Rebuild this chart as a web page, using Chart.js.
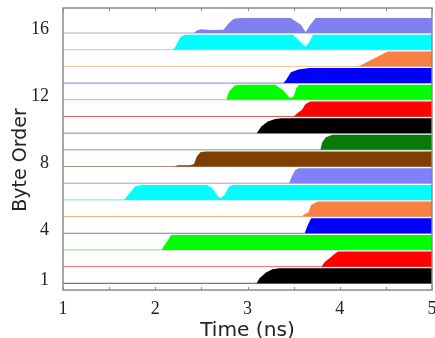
<!DOCTYPE html>
<html>
<head>
<meta charset="utf-8">
<script src="https://cdn.jsdelivr.net/npm/chart.js@4"></script>
<style>
  html, body { margin: 0; padding: 0; background: #fff; }
  #wrap { width: 435px; height: 338px; }
</style>
</head>
<body>
<div id="wrap"><canvas id="chart" width="435" height="338"></canvas></div>
<script>
// time axis ticks (ns) and byte-order tick labels
const xTicks = [1, 1.5, 2, 2.5, 3, 3.5, 4, 4.5, 5];
const yTicks = [1, 4, 8, 12, 16];
const xTitle = 'Time (ns)';
const yTitle = 'Byte Order';

// each row: [time ns, signal height (0..0.9)] breakpoints
const row1 = [[1,0],[3.1,0],[3.13,0.3],[3.2,0.65],[3.27,0.85],[3.35,0.9],[5,0.9]];
const row2 = [[1,0],[3.8,0],[3.84,0.3],[3.9,0.55],[3.93,0.7],[3.98,0.9],[5,0.9]];
const row3 = [[1,0],[2.07,0],[2.1,0.3],[2.13,0.5],[2.17,0.9],[5,0.9]];
const row4 = [[1,0],[3.62,0],[3.65,0.45],[3.69,0.9],[5,0.9]];
const row5 = [[1,0],[3.59,0],[3.62,0.15],[3.66,0.25],[3.69,0.7],[3.76,0.9],[5,0.9]];
const row6 = [[1,0],[1.66,0],[1.72,0.4],[1.78,0.8],[1.85,0.9],[2.56,0.9],[2.62,0.7],[2.68,0.2],[2.71,0.1],[2.75,0.3],[2.8,0.8],[2.84,0.9],[5,0.9]];
const row7 = [[1,0],[3.45,0],[3.48,0.4],[3.52,0.8],[3.56,0.9],[5,0.9]];
const row8 = [[1,0],[2.2,0],[2.25,0.08],[2.38,0.08],[2.42,0.15],[2.45,0.6],[2.49,0.85],[2.54,0.9],[5,0.9]];
const row9 = [[1,0],[3.79,0],[3.81,0.45],[3.85,0.75],[3.92,0.9],[5,0.9]];
const row10 = [[1,0],[3.1,0],[3.15,0.4],[3.22,0.7],[3.3,0.85],[3.37,0.9],[5,0.9]];
const row11 = [[1,0],[3.5,0],[3.53,0.15],[3.59,0.4],[3.63,0.75],[3.68,0.9],[5,0.9]];
const row12 = [[1,0],[2.77,0],[2.8,0.5],[2.86,0.85],[2.93,0.9],[3.3,0.9],[3.38,0.6],[3.46,0.1],[3.5,0.2],[3.53,0.7],[3.56,0.9],[5,0.9]];
const row13 = [[1,0],[3.39,0],[3.42,0.2],[3.47,0.65],[3.55,0.82],[3.67,0.9],[5,0.9]];
const row14 = [[1,0],[4.2,0],[4.52,0.9],[5,0.9]];
const row15 = [[1,0],[2.19,0],[2.22,0.2],[2.27,0.75],[2.32,0.9],[3.49,0.9],[3.55,0.6],[3.6,0.3],[3.63,0.2],[3.67,0.45],[3.71,0.9],[5,0.9]];
const row16 = [[1,0],[2.42,0],[2.45,0.15],[2.5,0.22],[2.6,0.18],[2.74,0.2],[2.8,0.6],[2.85,0.85],[2.93,0.9],[3.47,0.9],[3.52,0.7],[3.58,0.5],[3.63,0.05],[3.68,0.5],[3.74,0.9],[5,0.9]];

const rows = [row1, row2, row3, row4, row5, row6, row7, row8,
              row9, row10, row11, row12, row13, row14, row15, row16];
const fillColors = ['#000000', '#ff0000', '#00ff00', '#0000ff', '#f98045', '#00ffff', '#8080f8', '#7f3f00',
                    '#0b780b', '#000000', '#ff0000', '#00ff00', '#0000ff', '#f98045', '#00ffff', '#8080ee'];
const lineColors = ['#555555', '#e07070', '#88dd88', '#7070dd', '#f0b080', '#80e0e8', '#a0a0c8', '#b09080',
                    '#70b070', '#888888', '#d06060', '#88dd88', '#8080e0', '#f0c090', '#90e0e8', '#b0b0b0'];

const rowOffset = -0.2;   // baseline of row k sits at k + rowOffset

const datasets = [];
rows.forEach((pts, i) => {
    const base = i + 1 + rowOffset;
    datasets.push({
        data: pts.map(p => ({ x: p[0], y: base + p[1] })),
        backgroundColor: fillColors[i],
        borderWidth: 0,
        pointRadius: 0,
        fill: { value: base },
        order: 0
    });
    datasets.push({
        data: [{ x: 1, y: base }, { x: 5, y: base }],
        borderColor: lineColors[i],
        borderWidth: 1,
        pointRadius: 0,
        fill: false,
        order: 1
    });
});

// gray frame with inward tick marks, plus both axis titles
const framePlugin = {
    id: 'frame',
    afterDraw(chart) {
        const { ctx, chartArea: a, scales } = chart;
        ctx.save();
        ctx.strokeStyle = '#8a8a8a';
        ctx.lineWidth = 1.5;
        ctx.strokeRect(a.left, a.top, a.right - a.left, a.bottom - a.top);
        ctx.lineWidth = 1;
        xTicks.forEach(t => {
            const px = Math.round(scales.x.getPixelForValue(t)) + 0.5;
            ctx.beginPath();
            ctx.moveTo(px, a.bottom);
            ctx.lineTo(px, a.bottom - 3);
            ctx.moveTo(px, a.top);
            ctx.lineTo(px, a.top + 3);
            ctx.stroke();
        });

        ctx.fillStyle = '#222';
        ctx.font = '19px "DejaVu Sans"';
        ctx.textAlign = 'center';
        ctx.textBaseline = 'middle';
        ctx.save();
        ctx.translate((a.left + a.right) / 2, 331);
        ctx.scale(1.06, 1);
        ctx.fillText(xTitle, 0, 0);
        ctx.restore();

        ctx.translate(21, 160);
        ctx.rotate(-Math.PI / 2);
        ctx.fillText(yTitle, 0, 0);
        ctx.restore();
    }
};

new Chart(document.getElementById('chart'), {
    type: 'line',
    data: { datasets: datasets },
    plugins: [framePlugin],
    options: {
        responsive: false,
        animation: false,
        layout: { padding: { top: 8, right: 3, left: 0, bottom: 0 } },
        plugins: { legend: { display: false }, tooltip: { enabled: false } },
        scales: {
            x: {
                type: 'linear',
                min: 1,
                max: 5,
                grid: { display: false },
                border: { display: false },
                afterBuildTicks: s => { s.ticks = xTicks.map(v => ({ value: v })); },
                afterFit: s => { s.height = 48; s.paddingRight = 0; s.paddingLeft = 0; },
                ticks: {
                    autoSkip: false,
                    maxRotation: 0,
                    padding: 0,
                    color: '#222',
                    font: { family: 'Liberation Serif', size: 18 },
                    callback: v => (Number.isInteger(v) ? String(v) : '')
                }
            },
            y: {
                type: 'linear',
                min: 0.4,
                max: 17.3,
                grid: { display: false },
                border: { display: false },
                afterBuildTicks: s => { s.ticks = yTicks.map(v => ({ value: v })); },
                afterFit: s => { s.width = 63; s.paddingTop = 0; s.paddingBottom = 0; },
                ticks: {
                    autoSkip: false,
                    padding: 6,
                    color: '#222',
                    font: { family: 'Liberation Serif', size: 18 }
                }
            }
        }
    }
});
</script>
</body>
</html>
